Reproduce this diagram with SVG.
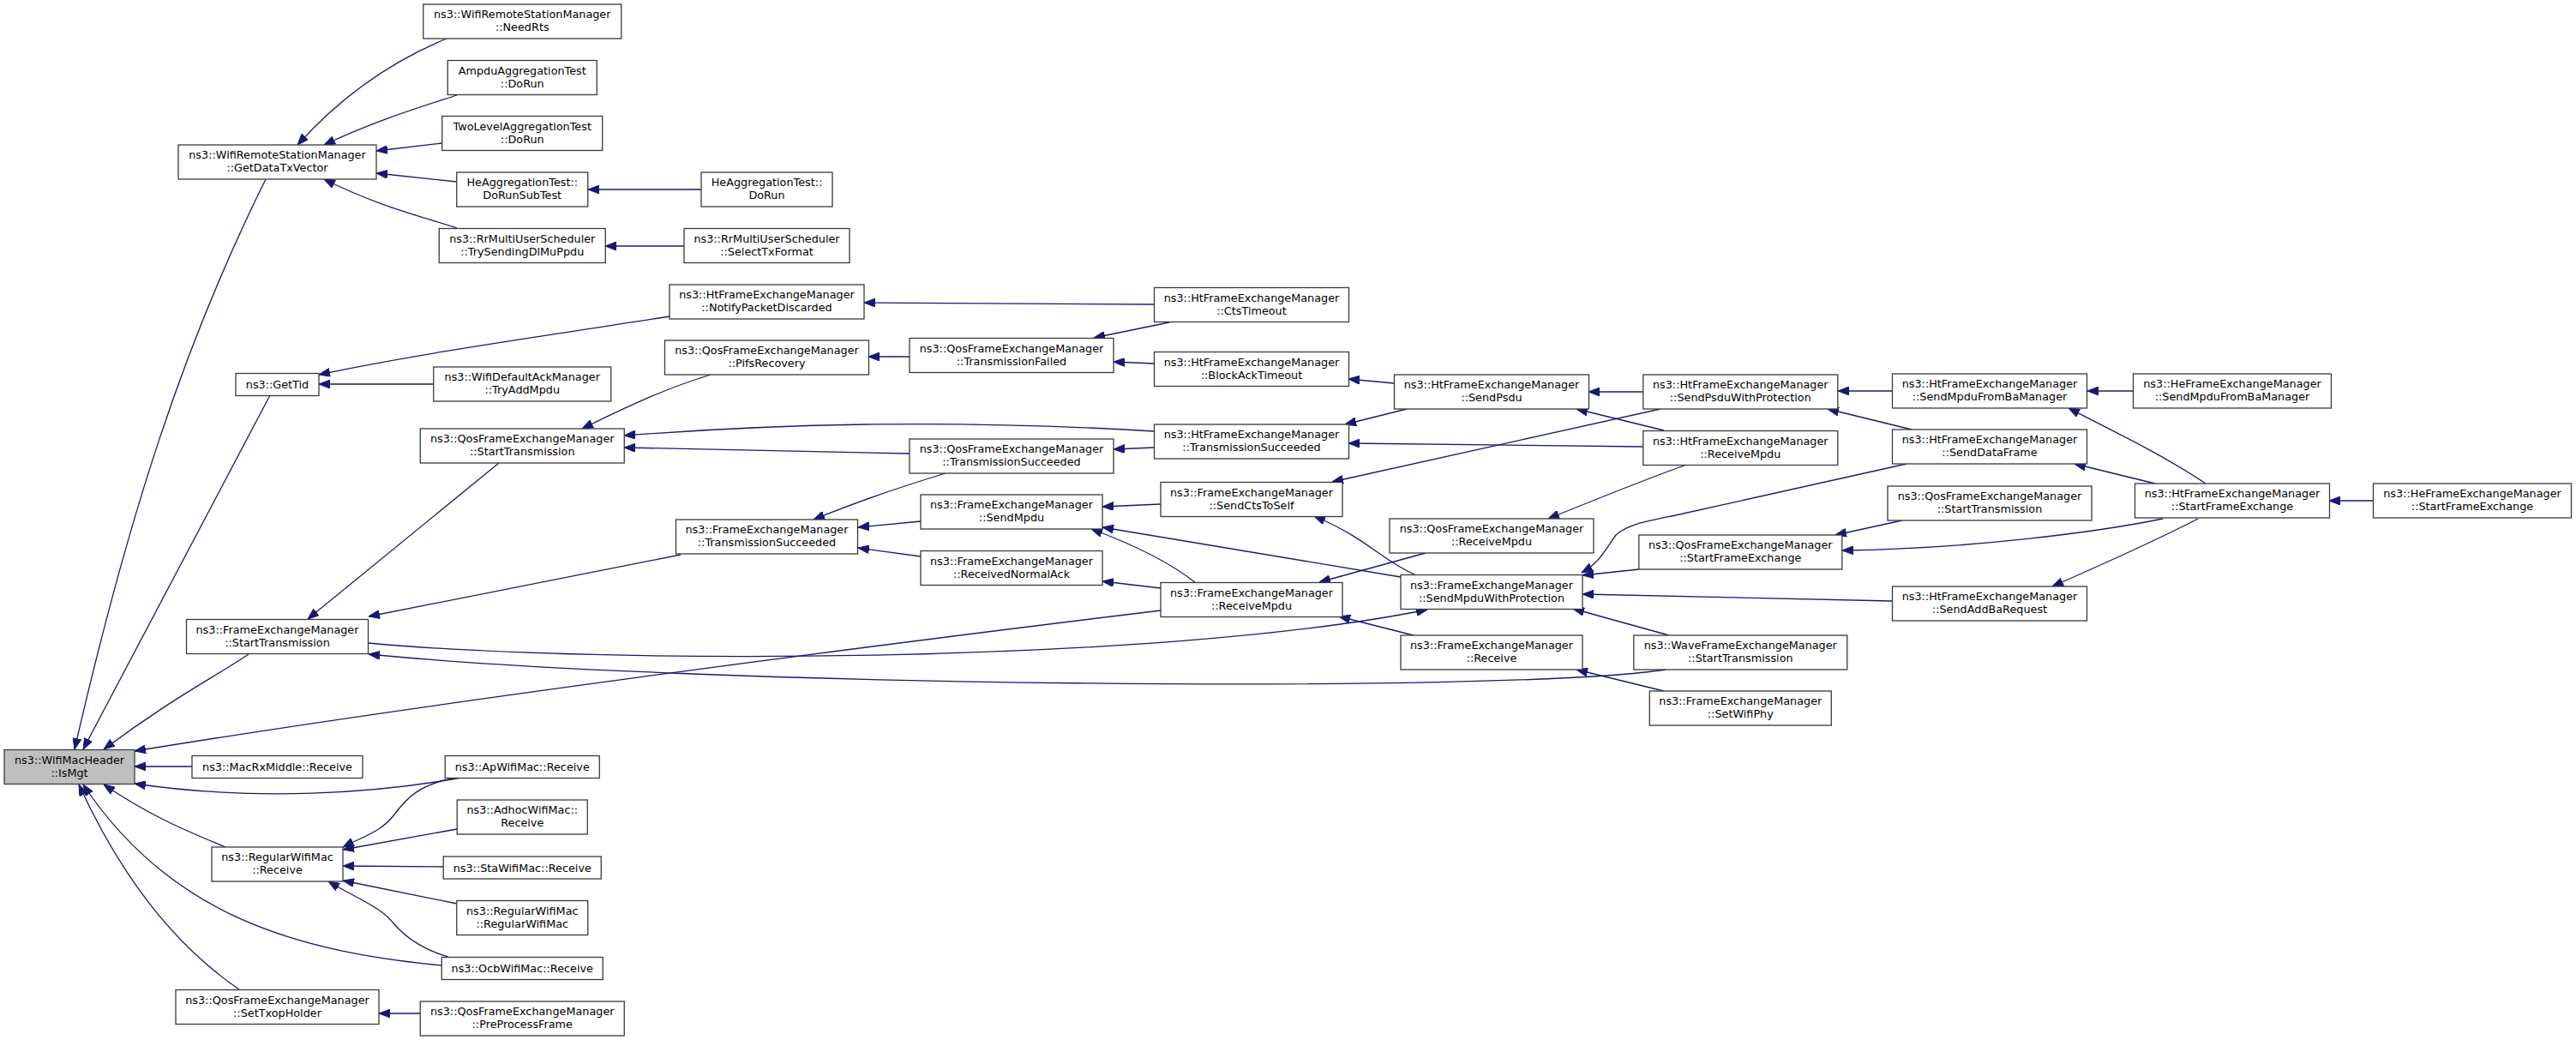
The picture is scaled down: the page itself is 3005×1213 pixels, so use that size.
<svg xmlns="http://www.w3.org/2000/svg" width="3005" height="1213" viewBox="0 0 3005 1213">
<style>
.n rect{fill:#ffffff;stroke:#3a3a3a;stroke-width:1.3}
.n.root rect{fill:#bfbfbf}
.n text{font-family:"DejaVu Sans","Liberation Sans",sans-serif;font-size:12.8px;text-anchor:middle;fill:#000000}
.e path{fill:none;stroke:#191970;stroke-width:1.3;marker-end:url(#ah)}
</style>
<defs>
<marker id="ah" markerUnits="userSpaceOnUse" markerWidth="13" markerHeight="10" refX="13" refY="5" orient="auto" viewBox="0 0 13 10">
<path d="M0,0 L13,5 L0,10 Z" fill="#191970" stroke="#191970" stroke-width="1"/>
</marker>
</defs>
<rect x="0" y="0" width="3005" height="1213" fill="#ffffff"/>
<g id="edges" class="e">
<path d="M310,209 C215,400 150,600 87,874"/>
<path d="M315,461 L97,874"/>
<path d="M290,763 C250,790 200,815 121,874"/>
<path d="M1354,712 C1000,755 500,820 157,876"/>
<path d="M224,894 L157,894"/>
<path d="M538,907 C440,925 300,935 157,914"/>
<path d="M263,988 C225,972 180,955 121,915"/>
<path d="M515,1126 C350,1110 200,1070 97,915"/>
<path d="M279,1154 C200,1100 140,1020 92,915"/>
<path d="M521,45 C460,70 400,110 347,169"/>
<path d="M533,111 C490,125 440,140 378,169"/>
<path d="M516,167 L439,176"/>
<path d="M533,212 L439,202"/>
<path d="M533,266 C490,252 440,240 378,209"/>
<path d="M818,221 L686,221"/>
<path d="M798,287 L706,287"/>
<path d="M781,369 C650,390 500,410 372,437"/>
<path d="M506,448 L372,448"/>
<path d="M1346,355 L1008,353"/>
<path d="M1364,376 L1276,394"/>
<path d="M1346,424 L1299,422"/>
<path d="M1061,416 L1013,416"/>
<path d="M829,437 C780,452 740,470 679,500"/>
<path d="M1346,503 C1100,488 900,495 728,508"/>
<path d="M1061,529 L728,522"/>
<path d="M1346,522 L1299,524"/>
<path d="M1103,552 C1060,565 1000,585 949,606"/>
<path d="M1074,608 L1001,615"/>
<path d="M1074,649 L1001,639"/>
<path d="M582,540 L359,722"/>
<path d="M794,647 L430,719"/>
<path d="M430,750 C700,775 1350,775 1665,711"/>
<path d="M1943,781 C1750,810 800,800 430,763"/>
<path d="M1354,588 L1286,591"/>
<path d="M1634,673 L1286,615"/>
<path d="M1395,680 C1370,660 1330,638 1273,617"/>
<path d="M1354,686 L1286,678"/>
<path d="M1641,477 L1569,495"/>
<path d="M1917,521 L1573,517"/>
<path d="M1626,447 L1573,442"/>
<path d="M1937,477 L1554,562"/>
<path d="M1650,670 C1610,652 1595,628 1533,602"/>
<path d="M1917,457 L1853,457"/>
<path d="M1941,502 L1839,477"/>
<path d="M1965,543 C1930,555 1880,575 1806,605"/>
<path d="M1663,645 L1539,679"/>
<path d="M1649,741 L1562,719"/>
<path d="M1941,806 L1839,781"/>
<path d="M2224,541 L1950,602 C1920,608 1898,612 1885,624 C1872,642 1866,656 1845,668"/>
<path d="M1912,664 L1846,671"/>
<path d="M2207,701 L1846,693"/>
<path d="M1947,741 L1835,710"/>
<path d="M2207,456 L2144,456"/>
<path d="M2230,501 L2132,477"/>
<path d="M2488,456 L2435,456"/>
<path d="M2573,564 C2530,535 2480,510 2413,476"/>
<path d="M2514,564 L2420,541"/>
<path d="M2523,605 C2450,620 2300,640 2149,642"/>
<path d="M2564,605 C2520,628 2460,655 2394,684"/>
<path d="M2768,584 L2717,584"/>
<path d="M2219,607 L2141,624"/>
<path d="M528,908 C490,915 475,930 460,950 C445,970 425,975 400,988"/>
<path d="M533,967 L400,991"/>
<path d="M517,1011 L400,1010"/>
<path d="M533,1054 L400,1027"/>
<path d="M523,1116 C495,1108 475,1095 460,1078 C445,1058 420,1050 383,1028"/>
<path d="M490,1182 L442,1182"/>
</g>
<g id="node-IsMgt" class="n root"><rect x="5" y="874.5" width="152" height="40"/><text x="81" y="890.5">ns3::WifiMacHeader</text><text x="81" y="905.5">::IsMgt</text></g>
<g id="node-GetDataTxVector" class="n"><rect x="208" y="169" width="231" height="40"/><text x="323.5" y="185">ns3::WifiRemoteStationManager</text><text x="323.5" y="200">::GetDataTxVector</text></g>
<g id="node-GetTid" class="n"><rect x="275" y="435.5" width="97" height="26"/><text x="323.5" y="453">ns3::GetTid</text></g>
<g id="node-FEM-StartTransmission" class="n"><rect x="217.5" y="722.5" width="212" height="40"/><text x="323.5" y="738.5">ns3::FrameExchangeManager</text><text x="323.5" y="753.5">::StartTransmission</text></g>
<g id="node-MacRxMiddle-Receive" class="n"><rect x="224" y="881.5" width="199" height="26"/><text x="323.5" y="899">ns3::MacRxMiddle::Receive</text></g>
<g id="node-RegularWifiMac-Receive" class="n"><rect x="247" y="988" width="153" height="40"/><text x="323.5" y="1004">ns3::RegularWifiMac</text><text x="323.5" y="1019">::Receive</text></g>
<g id="node-SetTxopHolder" class="n"><rect x="205" y="1154.5" width="237" height="40"/><text x="323.5" y="1170.5">ns3::QosFrameExchangeManager</text><text x="323.5" y="1185.5">::SetTxopHolder</text></g>
<g id="node-NeedRts" class="n"><rect x="493.75" y="5" width="231" height="40"/><text x="609.25" y="21">ns3::WifiRemoteStationManager</text><text x="609.25" y="36">::NeedRts</text></g>
<g id="node-AmpduAggregationTest" class="n"><rect x="522.25" y="70.5" width="174" height="40"/><text x="609.25" y="86.5">AmpduAggregationTest</text><text x="609.25" y="101.5">::DoRun</text></g>
<g id="node-TwoLevelAggregationTest" class="n"><rect x="515.75" y="135.5" width="187" height="40"/><text x="609.25" y="151.5">TwoLevelAggregationTest</text><text x="609.25" y="166.5">::DoRun</text></g>
<g id="node-HeAggregationTest-DoRunSubTest" class="n"><rect x="532.75" y="201" width="153" height="40"/><text x="609.25" y="217">HeAggregationTest::</text><text x="609.25" y="232">DoRunSubTest</text></g>
<g id="node-TrySendingDlMuPpdu" class="n"><rect x="512.25" y="266.5" width="194" height="40"/><text x="609.25" y="282.5">ns3::RrMultiUserScheduler</text><text x="609.25" y="297.5">::TrySendingDlMuPpdu</text></g>
<g id="node-TryAddMpdu" class="n"><rect x="505.75" y="428" width="207" height="40"/><text x="609.25" y="444">ns3::WifiDefaultAckManager</text><text x="609.25" y="459">::TryAddMpdu</text></g>
<g id="node-QosFEM-StartTransmission" class="n"><rect x="490.25" y="500" width="238" height="40"/><text x="609.25" y="516">ns3::QosFrameExchangeManager</text><text x="609.25" y="531">::StartTransmission</text></g>
<g id="node-ApWifiMac-Receive" class="n"><rect x="519.25" y="881.5" width="180" height="26"/><text x="609.25" y="899">ns3::ApWifiMac::Receive</text></g>
<g id="node-AdhocWifiMac-Receive" class="n"><rect x="533.25" y="933" width="152" height="40"/><text x="609.25" y="949">ns3::AdhocWifiMac::</text><text x="609.25" y="964">Receive</text></g>
<g id="node-StaWifiMac-Receive" class="n"><rect x="517.25" y="999" width="184" height="26"/><text x="609.25" y="1016.5">ns3::StaWifiMac::Receive</text></g>
<g id="node-RegularWifiMac-ctor" class="n"><rect x="532.75" y="1050.5" width="153" height="40"/><text x="609.25" y="1066.5">ns3::RegularWifiMac</text><text x="609.25" y="1081.5">::RegularWifiMac</text></g>
<g id="node-OcbWifiMac-Receive" class="n"><rect x="515.25" y="1116.5" width="188" height="26"/><text x="609.25" y="1134">ns3::OcbWifiMac::Receive</text></g>
<g id="node-PreProcessFrame" class="n"><rect x="490.25" y="1168" width="238" height="40"/><text x="609.25" y="1184">ns3::QosFrameExchangeManager</text><text x="609.25" y="1199">::PreProcessFrame</text></g>
<g id="node-HeAggregationTest-DoRun" class="n"><rect x="818" y="201" width="153" height="40"/><text x="894.5" y="217">HeAggregationTest::</text><text x="894.5" y="232">DoRun</text></g>
<g id="node-SelectTxFormat" class="n"><rect x="798" y="266.5" width="193" height="40"/><text x="894.5" y="282.5">ns3::RrMultiUserScheduler</text><text x="894.5" y="297.5">::SelectTxFormat</text></g>
<g id="node-NotifyPacketDiscarded" class="n"><rect x="781" y="332" width="227" height="40"/><text x="894.5" y="348">ns3::HtFrameExchangeManager</text><text x="894.5" y="363">::NotifyPacketDiscarded</text></g>
<g id="node-PifsRecovery" class="n"><rect x="775.5" y="397" width="238" height="40"/><text x="894.5" y="413">ns3::QosFrameExchangeManager</text><text x="894.5" y="428">::PifsRecovery</text></g>
<g id="node-FEM-TransmissionSucceeded" class="n"><rect x="788.5" y="606" width="212" height="40"/><text x="894.5" y="622">ns3::FrameExchangeManager</text><text x="894.5" y="637">::TransmissionSucceeded</text></g>
<g id="node-QosFEM-TransmissionFailed" class="n"><rect x="1061" y="394.5" width="238" height="40"/><text x="1180" y="410.5">ns3::QosFrameExchangeManager</text><text x="1180" y="425.5">::TransmissionFailed</text></g>
<g id="node-QosFEM-TransmissionSucceeded" class="n"><rect x="1061" y="512" width="238" height="40"/><text x="1180" y="528">ns3::QosFrameExchangeManager</text><text x="1180" y="543">::TransmissionSucceeded</text></g>
<g id="node-FEM-SendMpdu" class="n"><rect x="1074" y="577" width="212" height="40"/><text x="1180" y="593">ns3::FrameExchangeManager</text><text x="1180" y="608">::SendMpdu</text></g>
<g id="node-FEM-ReceivedNormalAck" class="n"><rect x="1074" y="642.5" width="212" height="40"/><text x="1180" y="658.5">ns3::FrameExchangeManager</text><text x="1180" y="673.5">::ReceivedNormalAck</text></g>
<g id="node-HtFEM-CtsTimeout" class="n"><rect x="1346.5" y="335.5" width="227" height="40"/><text x="1460" y="351.5">ns3::HtFrameExchangeManager</text><text x="1460" y="366.5">::CtsTimeout</text></g>
<g id="node-HtFEM-BlockAckTimeout" class="n"><rect x="1346.5" y="410.5" width="227" height="40"/><text x="1460" y="426.5">ns3::HtFrameExchangeManager</text><text x="1460" y="441.5">::BlockAckTimeout</text></g>
<g id="node-HtFEM-TransmissionSucceeded" class="n"><rect x="1346.5" y="495" width="227" height="40"/><text x="1460" y="511">ns3::HtFrameExchangeManager</text><text x="1460" y="526">::TransmissionSucceeded</text></g>
<g id="node-FEM-SendCtsToSelf" class="n"><rect x="1354" y="562.5" width="212" height="40"/><text x="1460" y="578.5">ns3::FrameExchangeManager</text><text x="1460" y="593.5">::SendCtsToSelf</text></g>
<g id="node-FEM-ReceiveMpdu" class="n"><rect x="1354" y="679.5" width="212" height="40"/><text x="1460" y="695.5">ns3::FrameExchangeManager</text><text x="1460" y="710.5">::ReceiveMpdu</text></g>
<g id="node-HtFEM-SendPsdu" class="n"><rect x="1626.5" y="437" width="227" height="40"/><text x="1740" y="453">ns3::HtFrameExchangeManager</text><text x="1740" y="468">::SendPsdu</text></g>
<g id="node-QosFEM-ReceiveMpdu" class="n"><rect x="1621" y="605" width="238" height="40"/><text x="1740" y="621">ns3::QosFrameExchangeManager</text><text x="1740" y="636">::ReceiveMpdu</text></g>
<g id="node-FEM-SendMpduWithProtection" class="n"><rect x="1634" y="670.5" width="212" height="40"/><text x="1740" y="686.5">ns3::FrameExchangeManager</text><text x="1740" y="701.5">::SendMpduWithProtection</text></g>
<g id="node-FEM-Receive" class="n"><rect x="1634" y="741" width="212" height="40"/><text x="1740" y="757">ns3::FrameExchangeManager</text><text x="1740" y="772">::Receive</text></g>
<g id="node-HtFEM-SendPsduWithProtection" class="n"><rect x="1916.8" y="437" width="227" height="40"/><text x="2030.3" y="453">ns3::HtFrameExchangeManager</text><text x="2030.3" y="468">::SendPsduWithProtection</text></g>
<g id="node-HtFEM-ReceiveMpdu" class="n"><rect x="1916.8" y="502.5" width="227" height="40"/><text x="2030.3" y="518.5">ns3::HtFrameExchangeManager</text><text x="2030.3" y="533.5">::ReceiveMpdu</text></g>
<g id="node-QosFEM-StartFrameExchange" class="n"><rect x="1911.8" y="624" width="237" height="40"/><text x="2030.3" y="640">ns3::QosFrameExchangeManager</text><text x="2030.3" y="655">::StartFrameExchange</text></g>
<g id="node-WaveFEM-StartTransmission" class="n"><rect x="1905.8" y="741" width="249" height="40"/><text x="2030.3" y="757">ns3::WaveFrameExchangeManager</text><text x="2030.3" y="772">::StartTransmission</text></g>
<g id="node-FEM-SetWifiPhy" class="n"><rect x="1924.3" y="806" width="212" height="40"/><text x="2030.3" y="822">ns3::FrameExchangeManager</text><text x="2030.3" y="837">::SetWifiPhy</text></g>
<g id="node-HtFEM-SendMpduFromBaManager" class="n"><rect x="2207.5" y="436" width="227" height="40"/><text x="2321" y="452">ns3::HtFrameExchangeManager</text><text x="2321" y="467">::SendMpduFromBaManager</text></g>
<g id="node-HtFEM-SendDataFrame" class="n"><rect x="2207.5" y="501" width="227" height="40"/><text x="2321" y="517">ns3::HtFrameExchangeManager</text><text x="2321" y="532">::SendDataFrame</text></g>
<g id="node-QosFEM-StartTransmission-2" class="n"><rect x="2202" y="567" width="238" height="40"/><text x="2321" y="583">ns3::QosFrameExchangeManager</text><text x="2321" y="598">::StartTransmission</text></g>
<g id="node-HtFEM-SendAddBaRequest" class="n"><rect x="2207.5" y="684" width="227" height="40"/><text x="2321" y="700">ns3::HtFrameExchangeManager</text><text x="2321" y="715">::SendAddBaRequest</text></g>
<g id="node-HeFEM-SendMpduFromBaManager" class="n"><rect x="2488.5" y="436" width="231" height="40"/><text x="2604" y="452">ns3::HeFrameExchangeManager</text><text x="2604" y="467">::SendMpduFromBaManager</text></g>
<g id="node-HtFEM-StartFrameExchange" class="n"><rect x="2490.5" y="564" width="227" height="40"/><text x="2604" y="580">ns3::HtFrameExchangeManager</text><text x="2604" y="595">::StartFrameExchange</text></g>
<g id="node-HeFEM-StartFrameExchange" class="n"><rect x="2768.5" y="564" width="231" height="40"/><text x="2884" y="580">ns3::HeFrameExchangeManager</text><text x="2884" y="595">::StartFrameExchange</text></g>
</svg>
